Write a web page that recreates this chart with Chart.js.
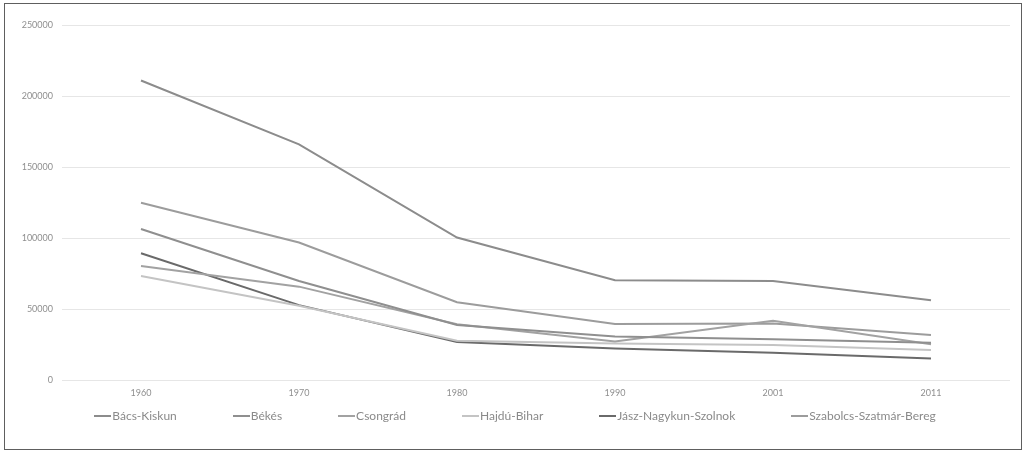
<!DOCTYPE html>
<html>
<head>
<meta charset="utf-8">
<script src="https://cdn.jsdelivr.net/npm/chart.js@4/dist/chart.umd.min.js"></script>
<style>
  html, body { margin: 0; padding: 0; background: #fff; }
  #wrap { position: relative; width: 1024px; height: 450px; overflow: hidden; }
  #chart { position: absolute; left: 0; top: 0; }
  #frame { position: absolute; left: 4px; top: 3px; width: 1016px; height: 445px;
           border: 1px solid #5e5e5e; pointer-events: none; }
  #legend { position: absolute; left: 0; top: 408px; width: 1030px; display: flex;
            justify-content: center; gap: 56px; font-family: Lato, "Open Sans", sans-serif;
            font-size: 12px; color: #8a8a8a; line-height: 16px; }
  #legend .item { display: flex; align-items: center; white-space: nowrap; }
  #legend .swatch { display: inline-block; width: 17px; height: 2px; margin-right: 1px; }
</style>
</head>
<body>
<div id="wrap">
  <canvas id="chart" width="1024" height="450"></canvas>
  <div id="legend"></div>
  <div id="frame"></div>
</div>
<script>
// Census years on the category axis
const years = ['1960', '1970', '1980', '1990', '2001', '2011'];

// One series per county
const bacsKiskun = [211000, 166000, 100500, 70500, 70000, 56500];
const bekes = [106500, 70000, 39000, 31000, 29000, 26500];
const csongrad = [80500, 66000, 39500, 27500, 42000, 25500];
const hajduBihar = [73500, 52500, 28000, 26000, 25000, 21500];
const jaszNagykunSzolnok = [89500, 53000, 27000, 22500, 19500, 15500];
const szabolcsSzatmarBereg = [125000, 97000, 55000, 39700, 40000, 32000];

// Value axis ticks
const yTicks = [0, 50000, 100000, 150000, 200000, 250000];

const series = [
  { label: 'Bács-Kiskun', data: bacsKiskun, color: '#8c8c8c' },
  { label: 'Békés', data: bekes, color: '#8f8f8f' },
  { label: 'Csongrád', data: csongrad, color: '#a2a2a2' },
  { label: 'Hajdú-Bihar', data: hajduBihar, color: '#c4c4c4' },
  { label: 'Jász-Nagykun-Szolnok', data: jaszNagykunSzolnok, color: '#6a6a6a' },
  { label: 'Szabolcs-Szatmár-Bereg', data: szabolcsSzatmarBereg, color: '#9c9c9c' }
];

const tickFont = { family: 'Lato, "Open Sans", sans-serif', size: 9 };

new Chart(document.getElementById('chart'), {
  type: 'line',
  data: {
    labels: years,
    datasets: series.map(s => ({
      label: s.label,
      data: s.data,
      borderColor: s.color,
      backgroundColor: s.color,
      borderWidth: 2,
      pointRadius: 0,
      pointHoverRadius: 0,
      tension: 0,
      fill: false
    }))
  },
  options: {
    responsive: false,
    animation: false,
    layout: { padding: { top: 25, right: 14, left: 0, bottom: 0 } },
    plugins: {
      legend: { display: false },
      tooltip: { enabled: false }
    },
    scales: {
      x: {
        offset: true,
        grid: { display: false, drawTicks: false },
        border: { display: false },
        ticks: { color: '#8f8f8f', font: tickFont, padding: 7, maxRotation: 0 },
        afterFit(scale) { scale.height = 69.5; }
      },
      y: {
        min: 0,
        max: 250000,
        afterBuildTicks(scale) { scale.ticks = yTicks.map(v => ({ value: v })); },
        grid: { color: '#e6e6e6', lineWidth: 1, drawTicks: false },
        border: { display: false },
        ticks: { color: '#8f8f8f', font: tickFont, padding: 9, callback: v => String(v) },
        afterFit(scale) { scale.width = 62; }
      }
    }
  }
});

// Legend row under the plot
const legend = document.getElementById('legend');
series.forEach(s => {
  const item = document.createElement('div');
  item.className = 'item';
  const sw = document.createElement('span');
  sw.className = 'swatch';
  sw.style.background = s.color;
  const txt = document.createElement('span');
  txt.textContent = s.label;
  item.appendChild(sw);
  item.appendChild(txt);
  legend.appendChild(item);
});
</script>
</body>
</html>
